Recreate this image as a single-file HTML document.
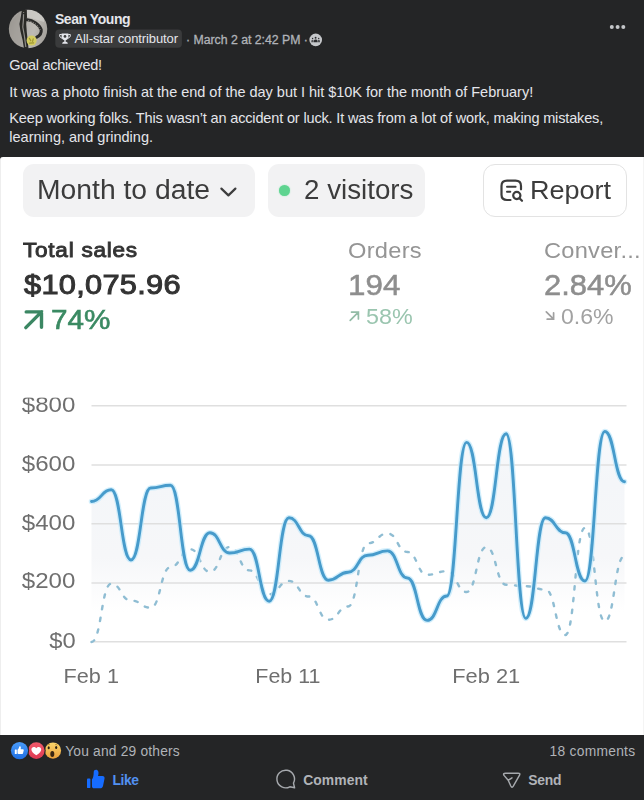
<!DOCTYPE html>
<html><head><meta charset="utf-8">
<style>
*{margin:0;padding:0;box-sizing:border-box}
html,body{width:644px;height:800px;overflow:hidden;background:#242526}
body{font-family:"Liberation Sans",sans-serif;position:relative;color:#e4e6eb}
.abs{position:absolute;white-space:nowrap;line-height:1}
#shot{position:absolute;left:0;top:157px;width:644px;height:578px;background:#fff;border-top-left-radius:3px;border-left:1px solid #eee;border-right:1px solid #f4f4f4}
.bl{filter:blur(.35px)}
.pill{position:absolute;top:7px;height:52.5px;background:#f2f2f3;border-radius:11px}
</style></head><body>

<!-- header -->
<svg class="abs" style="left:0;top:0" width="644" height="60" viewBox="0 0 644 60">
  <defs>
    <clipPath id="av"><circle cx="28.05" cy="29.05" r="19.2"/></clipPath>
    <linearGradient id="avbg" x1="0" y1="0" x2="1" y2="0.3"><stop offset="0" stop-color="#8f8c86"/><stop offset="0.35" stop-color="#aeaba6"/><stop offset="0.7" stop-color="#bdbab5"/><stop offset="1" stop-color="#a19e99"/></linearGradient>
    <filter id="avb" x="-10%" y="-10%" width="120%" height="120%"><feGaussianBlur stdDeviation="0.55"/></filter>
  </defs>
  <g clip-path="url(#av)"><g filter="url(#avb)">
    <rect x="6" y="7" width="46" height="46" fill="url(#avbg)"/>
    <path d="M8,26 L21,10 L23,50 L8,50Z" fill="#9a9791" opacity="0.55"/>
    <path d="M27,8 L44,12 L44,22 L27,17Z" fill="#d2d0cc" opacity="0.7"/>
    <path d="M21.8,10 L26.8,10 L27,17 L26.2,24 L26.8,32 L27.6,40 L28.6,49 L24,49 L22.6,40 L20.4,31 L19.4,24 L20.8,17 Z" fill="#2a2a28"/>
    <path d="M23.6,12 L23.4,20 L22.8,27 L24.4,36 L25.8,47" fill="none" stroke="#8f8d88" stroke-width="1.2"/>
    <path d="M22.5,13.5h3.5" stroke="#2a2a28" stroke-width="1.4"/>
    <path d="M27.2,19.8 C33,20.2 39.5,24.5 41.2,29.8 C41.6,33 39.6,35.8 36.8,37.2" fill="none" stroke="#2c2c2a" stroke-width="3.1" stroke-linecap="round"/>
    <path d="M28,20.7 C33.5,21.7 38.6,25.2 40.2,29.8" fill="none" stroke="#9d9b95" stroke-width="0.9" stroke-dasharray="1.1 1.4"/>
    <circle cx="31.6" cy="40.6" r="5" fill="#d3cc60"/>
    <path d="M29.4,38.4 L30.8,40.8 M33.2,38.8 L32.6,41.4 M29.6,43.2 L33.6,42.8" stroke="#9f962f" stroke-width="1.2" fill="none" stroke-linecap="round"/>
  </g></g>
  <rect x="55.3" y="29.4" width="126.6" height="18.4" rx="4" fill="#3a3b3c"/>
  <g fill="#e4e6eb" transform="translate(59,33.5)">
    <path d="M2.6,0H9.4V3.2C9.4,5.4 8,6.7 6,6.7C4,6.7 2.6,5.4 2.6,3.2Z"/>
    <path d="M2.8,1H0.7C0.3,3 1.3,4.3 3.1,4.7M9.2,1H11.3C11.7,3 10.7,4.3 8.9,4.7" fill="none" stroke="#e4e6eb" stroke-width="1"/>
    <rect x="5.3" y="6.4" width="1.4" height="2.1"/>
    <path d="M3.2,10.2C3.2,8.8 4.2,8.2 6,8.2C7.8,8.2 8.8,8.8 8.8,10.2Z"/>
    <circle cx="6" cy="2.9" r="1.350" fill="#3a3b3c"/>
  </g>
  <circle cx="315.7" cy="39.9" r="6.3" fill="#c5c7ca"/>
  <g fill="#2a2b2d">
    <circle cx="315.6" cy="37.8" r="0.950"/><circle cx="312.6" cy="38.4" r="0.7"/><circle cx="318.7" cy="38.4" r="0.7"/>
    <path d="M313.8,42.3V41.2C313.8,40 314.6,39.4 315.650,39.4C316.7,39.4 317.5,40 317.5,41.2V42.3Z"/>
    <path d="M311.3,42.2V41.3C311.3,40.3 311.9,39.8 312.7,39.8C313.2,39.8 313.5,40 313.5,40.8V42.2ZM320,42.2V41.3C320,40.3 319.4,39.8 318.6,39.8C318.1,39.8 317.8,40 317.8,40.8V42.2Z" opacity="0.75"/>
  </g>
  <g fill="#c4c6c9"><circle cx="611.8" cy="26.9" r="2"/><circle cx="617.6" cy="26.9" r="2"/><circle cx="623.3" cy="26.9" r="2"/></g>
</svg>

<!-- screenshot -->
<div id="shot">
  <div class="pill" style="left:22px;width:232px"></div>
  <div class="pill" style="left:267px;width:156.8px"></div>
  <div class="abs" style="left:482px;top:7px;width:143.6px;height:52.5px;border:1.6px solid #e3e3e3;border-radius:12px;background:#fff"></div>
</div>
<svg class="abs" style="left:215px;top:182px" width="26" height="20" viewBox="215 182 26 20"><path d="M221.4,188.6L228.4,195.4L235.4,188.6" fill="none" stroke="#3e3e3e" stroke-width="2.2" stroke-linecap="round" stroke-linejoin="round"/></svg>
<div class="abs" style="left:279.4px;top:184.9px;width:11px;height:11px;border-radius:50%;background:#5fd490;box-shadow:0 0 1.5px #8ee6b4"></div>
<svg class="abs" style="left:496px;top:176px" width="30" height="30" viewBox="496 176 30 30"><g fill="none" stroke="#3c3c3c" stroke-width="2.2" stroke-linecap="round" stroke-linejoin="round"><path d="M510.5,200H507C503.5,200 501.5,198 501.5,194.8V186C501.5,182.7 503.5,180.7 507,180.7H515.5C519,180.7 521,182.7 521,186V189.3"/><path d="M507,186.8H515.6M507,191.7H510.3" stroke-width="2"/><circle cx="516.8" cy="195.5" r="3.6"/><path d="M519.5,198.2L522,200.8"/></g></svg>

<svg class="abs" style="left:20px;top:305px" width="30" height="30" viewBox="20 305 30 30"><path d="M26.2,311.9H41.5V327.3M41.5,311.9L25.8,327.6" fill="none" stroke="#3b8763" stroke-width="3.4" stroke-linejoin="miter" stroke-linecap="round"/></svg>

<svg class="abs" style="left:346px;top:308px" width="16" height="16" viewBox="346 308 16 16"><path d="M351.5,312.1H358.4V319M358.4,312.1L350.2,320.3" fill="none" stroke="#93bca6" stroke-width="1.7" stroke-linecap="round"/></svg>

<svg class="abs" style="left:542px;top:308px" width="16" height="16" viewBox="542 308 16 16"><path d="M547.2,319.2H553.6V312.8M553.6,319.2L546.3,311.9" fill="none" stroke="#a0a0a0" stroke-width="1.7" stroke-linecap="round"/></svg>

<!-- chart -->
<svg class="abs bl" style="left:0;top:380px" width="644" height="340" viewBox="0 380 644 340">
  <defs>
    <linearGradient id="ag" x1="0" y1="430" x2="0" y2="642" gradientUnits="userSpaceOnUse">
      <stop offset="0" stop-color="#f8f9fb"/><stop offset="0.25" stop-color="#f4f6f9"/><stop offset="0.6" stop-color="#f6f7f9"/><stop offset="0.86" stop-color="#ffffff"/>
    </linearGradient>
  </defs>
  <path d="M91.5,501.5C101.4,501.5 101.4,489.8 111.2,489.8C121.1,489.8 121.1,560.0 131.0,560.0C140.9,560.0 140.9,488.0 150.7,488.0C160.6,488.0 160.6,485.3 170.5,485.3C180.3,485.3 180.3,570.2 190.2,570.2C200.1,570.2 200.1,532.7 209.9,532.7C219.8,532.7 219.8,553.0 229.7,553.0C239.6,553.0 239.6,549.1 249.4,549.1C259.3,549.1 259.3,601.3 269.2,601.3C279.0,601.3 279.0,517.8 288.9,517.8C298.8,517.8 298.8,535.7 308.6,535.7C318.5,535.7 318.5,580.2 328.4,580.2C338.3,580.2 338.3,572.2 348.1,572.2C358.0,572.2 358.0,555.2 367.9,555.2C377.7,555.2 377.7,550.9 387.6,550.9C397.5,550.9 397.5,578.0 407.4,578.0C417.2,578.0 417.2,620.4 427.1,620.4C437.0,620.4 437.0,596.0 446.8,596.0C456.7,596.0 456.7,442.4 466.6,442.4C476.4,442.4 476.4,517.8 486.3,517.8C496.2,517.8 496.2,433.8 506.1,433.8C515.9,433.8 515.9,618.4 525.8,618.4C535.7,618.4 535.7,517.8 545.5,517.8C555.4,517.8 555.4,532.7 565.3,532.7C575.1,532.7 575.1,581.0 585.0,581.0C594.9,581.0 594.9,431.5 604.8,431.5C614.6,431.5 614.6,481.8 624.5,481.8L624.5,641.8L91.5,641.8Z" fill="url(#ag)"/>
  <g stroke="#dfdfdf" stroke-width="1.4">
    <path d="M91.5,405.8H626.5M91.5,465H626.5M91.5,523.7H626.5M91.5,583H626.5M91.5,641.8H626.5"/>
  </g>
  <path d="M91.5,642.0C101.4,642.0 101.4,583.7 111.2,583.7C121.1,583.7 121.1,600.5 131.0,600.5C140.9,600.5 140.9,607.7 150.7,607.7C160.6,607.7 160.6,567.2 170.5,567.2C180.3,567.2 180.3,549.2 190.2,549.2C200.1,549.2 200.1,571.8 209.9,571.8C219.8,571.8 219.8,547.0 229.7,547.0C239.6,547.0 239.6,570.4 249.4,570.4C259.3,570.4 259.3,594.3 269.2,594.3C279.0,594.3 279.0,580.9 288.9,580.9C298.8,580.9 298.8,596.5 308.6,596.5C318.5,596.5 318.5,619.8 328.4,619.8C338.3,619.8 338.3,606.5 348.1,606.5C358.0,606.5 358.0,543.3 367.9,543.3C377.7,543.3 377.7,533.5 387.6,533.5C397.5,533.5 397.5,552.0 407.4,552.0C417.2,552.0 417.2,574.8 427.1,574.8C437.0,574.8 437.0,571.2 446.8,571.2C456.7,571.2 456.7,592.0 466.6,592.0C476.4,592.0 476.4,547.1 486.3,547.1C496.2,547.1 496.2,584.8 506.1,584.8C515.9,584.8 515.9,586.2 525.8,586.2C535.7,586.2 535.7,589.6 545.5,589.6C555.4,589.6 555.4,635.0 565.3,635.0C575.1,635.0 575.1,527.8 585.0,527.8C594.9,527.8 594.9,621.3 604.8,621.3C614.6,621.3 614.6,556.0 624.5,556.0" fill="none" stroke="#8fbdd3" stroke-width="2.4" stroke-dasharray="3.3 8.5" stroke-linecap="round"/>
  <path d="M91.5,501.5C101.4,501.5 101.4,489.8 111.2,489.8C121.1,489.8 121.1,560.0 131.0,560.0C140.9,560.0 140.9,488.0 150.7,488.0C160.6,488.0 160.6,485.3 170.5,485.3C180.3,485.3 180.3,570.2 190.2,570.2C200.1,570.2 200.1,532.7 209.9,532.7C219.8,532.7 219.8,553.0 229.7,553.0C239.6,553.0 239.6,549.1 249.4,549.1C259.3,549.1 259.3,601.3 269.2,601.3C279.0,601.3 279.0,517.8 288.9,517.8C298.8,517.8 298.8,535.7 308.6,535.7C318.5,535.7 318.5,580.2 328.4,580.2C338.3,580.2 338.3,572.2 348.1,572.2C358.0,572.2 358.0,555.2 367.9,555.2C377.7,555.2 377.7,550.9 387.6,550.9C397.5,550.9 397.5,578.0 407.4,578.0C417.2,578.0 417.2,620.4 427.1,620.4C437.0,620.4 437.0,596.0 446.8,596.0C456.7,596.0 456.7,442.4 466.6,442.4C476.4,442.4 476.4,517.8 486.3,517.8C496.2,517.8 496.2,433.8 506.1,433.8C515.9,433.8 515.9,618.4 525.8,618.4C535.7,618.4 535.7,517.8 545.5,517.8C555.4,517.8 555.4,532.7 565.3,532.7C575.1,532.7 575.1,581.0 585.0,581.0C594.9,581.0 594.9,431.5 604.8,431.5C614.6,431.5 614.6,481.8 624.5,481.8" fill="none" stroke="#c4e9fb" stroke-opacity="0.75" stroke-width="5.6" stroke-linecap="round" stroke-linejoin="round"/>
  <path d="M91.5,501.5C101.4,501.5 101.4,489.8 111.2,489.8C121.1,489.8 121.1,560.0 131.0,560.0C140.9,560.0 140.9,488.0 150.7,488.0C160.6,488.0 160.6,485.3 170.5,485.3C180.3,485.3 180.3,570.2 190.2,570.2C200.1,570.2 200.1,532.7 209.9,532.7C219.8,532.7 219.8,553.0 229.7,553.0C239.6,553.0 239.6,549.1 249.4,549.1C259.3,549.1 259.3,601.3 269.2,601.3C279.0,601.3 279.0,517.8 288.9,517.8C298.8,517.8 298.8,535.7 308.6,535.7C318.5,535.7 318.5,580.2 328.4,580.2C338.3,580.2 338.3,572.2 348.1,572.2C358.0,572.2 358.0,555.2 367.9,555.2C377.7,555.2 377.7,550.9 387.6,550.9C397.5,550.9 397.5,578.0 407.4,578.0C417.2,578.0 417.2,620.4 427.1,620.4C437.0,620.4 437.0,596.0 446.8,596.0C456.7,596.0 456.7,442.4 466.6,442.4C476.4,442.4 476.4,517.8 486.3,517.8C496.2,517.8 496.2,433.8 506.1,433.8C515.9,433.8 515.9,618.4 525.8,618.4C535.7,618.4 535.7,517.8 545.5,517.8C555.4,517.8 555.4,532.7 565.3,532.7C575.1,532.7 575.1,581.0 585.0,581.0C594.9,581.0 594.9,431.5 604.8,431.5C614.6,431.5 614.6,481.8 624.5,481.8" fill="none" stroke="#479bcb" stroke-width="2.9" stroke-linecap="round" stroke-linejoin="round"/>
  <g font-family="Liberation Sans, sans-serif" font-size="22" fill="#6f6f6f">
    <text x="21.8" y="411.5" textLength="53.6" lengthAdjust="spacingAndGlyphs">$800</text>
    <text x="21.8" y="470.8" textLength="53.6" lengthAdjust="spacingAndGlyphs">$600</text>
    <text x="21.8" y="529.8" textLength="53.6" lengthAdjust="spacingAndGlyphs">$400</text>
    <text x="21.8" y="588" textLength="53.6" lengthAdjust="spacingAndGlyphs">$200</text>
    <text x="49.2" y="648" textLength="26.4" lengthAdjust="spacingAndGlyphs">$0</text>
    <text x="63.6" y="683" textLength="55.4" lengthAdjust="spacingAndGlyphs" font-size="21">Feb 1</text>
    <rect x="18" y="388" width="62" height="9.6" fill="#fff"/>
    <text x="255.3" y="683" textLength="65.2" lengthAdjust="spacingAndGlyphs" font-size="21">Feb 11</text>
    <text x="452.2" y="683" textLength="68" lengthAdjust="spacingAndGlyphs" font-size="21">Feb 21</text>
  </g>
</svg>

<!-- footer -->
<svg class="abs" style="left:0;top:736px" width="644" height="64" viewBox="0 736 644 64">
  <defs>
    <linearGradient id="lk" x1="0" y1="0" x2="0" y2="1"><stop offset="0" stop-color="#4a9bf8"/><stop offset="1" stop-color="#1f6fe3"/></linearGradient>
    <linearGradient id="lv" x1="0" y1="0" x2="0" y2="1"><stop offset="0" stop-color="#f2596a"/><stop offset="1" stop-color="#dd3a52"/></linearGradient>
    <linearGradient id="ww" x1="0" y1="0" x2="0" y2="1"><stop offset="0" stop-color="#fbd66a"/><stop offset="1" stop-color="#eaa03c"/></linearGradient>
  </defs>
  <circle cx="53" cy="750.6" r="8.1" fill="url(#ww)"/>
  <ellipse cx="48.7" cy="747.7" rx="1.050" ry="1.5" fill="#2c2213"/><ellipse cx="56.2" cy="747.5" rx="1.050" ry="1.5" fill="#2c2213"/>
  <path d="M47.6,745.2q1.1,-1 2.2,-0.6M55.2,744.6q1.1,-0.4 2.2,0.6" stroke="#8a5a1a" stroke-width="0.6" fill="none"/>
  <ellipse cx="52.3" cy="753.9" rx="2" ry="3" fill="#3a2612"/>
  <circle cx="36.3" cy="750.6" r="9.4" fill="#242526"/>
  <circle cx="36.3" cy="750.6" r="8.3" fill="url(#lv)"/>
  <path d="M36.3,755.3C32.8,752.9 31.4,751.2 31.4,749.4C31.4,747.9 32.5,746.9 33.8,746.9C34.8,746.9 35.7,747.4 36.3,748.3C36.9,747.4 37.8,746.9 38.8,746.9C40.1,746.9 41.2,747.9 41.2,749.4C41.2,751.2 39.8,752.9 36.3,755.3Z" fill="#fff"/>
  <circle cx="19.5" cy="750.6" r="9.6" fill="#242526"/>
  <circle cx="19.5" cy="750.6" r="8.6" fill="url(#lk)"/>
  <rect x="14.8" y="749.6" width="2" height="4.5" rx="0.4" fill="#fff"/>
  <path d="M17.5,749.8C18.4,749 19,747.9 19.1,746.9C19.2,746.2 19.8,746 20.3,746.3C21,746.7 21,747.8 20.6,749.2H22.7C23.5,749.2 23.9,749.8 23.7,750.5L23,753.2C22.8,753.8 22.4,754.1 21.8,754.1H18.5C17.9,754.1 17.5,753.8 17.5,753.3Z" fill="#fff"/>

  <g fill="#166cff">
    <rect x="87" y="778.5" width="3.4" height="9.6" rx="0.9"/>
    <path d="M91.9,779.6C93.2,778 93.7,775.5 93.7,772.2C93.7,770 95.6,769.4 97.1,770C98.9,770.8 98.8,773.6 98,776.1H102.4C104.1,776.1 104.9,777.3 104.5,778.8L103,786C102.6,787.5 101.6,788.3 100.1,788.3H94C92.9,788.3 92,787.6 92,786.5Z"/>
  </g>
  <path d="M293.470,783.130A8.8,8.8 0 1 0 289.830,786.770L294.6,787.8Z" fill="none" stroke="#a6a9ad" stroke-width="1.450" stroke-linejoin="round"/>
  <path d="M505.6,773.2H518.2Q520.6,773.2 519.4,775.3L513.3,786.2Q512,788.3 510.8,786L508.2,780.3L504,775.4Q502.7,773.2 505.6,773.2ZM508.2,780.3L512,777.8" fill="none" stroke="#a6a9ad" stroke-width="1.450" stroke-linejoin="round" stroke-linecap="round"/>
</svg>

<div class="abs" id="name" style="left:54.9px;top:12px;font-size:14px;color:#e4e6eb;font-weight:bold;letter-spacing:-0.43px">Sean Young</div>
<div class="abs" id="badge" style="left:74.5px;top:32px;font-size:13px;color:#e4e6eb;letter-spacing:-0.1px">All-star contributor</div>
<div class="abs" id="date" style="left:186.0px;top:34px;font-size:12.3px;color:#b0b3b8;-webkit-text-stroke:0.3px #b0b3b8;letter-spacing:-0.02px">· March 2 at 2:42 PM ·</div>
<div class="abs" id="l1" style="left:9.3px;top:58px;font-size:14.5px;color:#e4e6eb;letter-spacing:-0.3px">Goal achieved!</div>
<div class="abs" id="l2" style="left:9.3px;top:85px;font-size:14.5px;color:#e4e6eb;letter-spacing:-0.02px">It was a photo finish at the end of the day but I hit $10K for the month of February!</div>
<div class="abs" id="l3" style="left:9.3px;top:111px;font-size:14.5px;color:#e4e6eb;letter-spacing:-0.15px">Keep working folks. This wasn’t an accident or luck. It was from a lot of work, making mistakes,</div>
<div class="abs" id="l4" style="left:9.3px;top:130px;font-size:14.5px;color:#e4e6eb;letter-spacing:0.01px">learning, and grinding.</div>
<div class="abs bl" id="mtd" style="left:37.2px;top:177px;font-size:27px;color:#3c3c3c;transform:scaleX(1.048);transform-origin:0 0">Month to date</div>
<div class="abs bl" id="vis" style="left:303.5px;top:177px;font-size:27px;color:#3c3c3c;transform:scaleX(1.027);transform-origin:0 0">2 visitors</div>
<div class="abs bl" id="rep" style="left:529.6px;top:177px;font-size:26px;color:#3c3c3c;transform:scaleX(1.038);transform-origin:0 0">Report</div>
<div class="abs bl" id="ts" style="left:23.4px;top:240px;font-size:20.5px;color:#333333;-webkit-text-stroke:0.9px #333333;letter-spacing:0.69px;transform:scaleX(1.1);transform-origin:0 0">Total sales</div>
<div class="abs bl" id="amt" style="left:23.9px;top:271px;font-size:28px;color:#333333;-webkit-text-stroke:1px #333333;letter-spacing:0.25px;transform:scaleX(1.1);transform-origin:0 0">$10,075.96</div>
<div class="abs bl" id="p74" style="left:50.6px;top:307px;font-size:27px;color:#3b8a63;-webkit-text-stroke:0.6px #3b8a63;transform:scaleX(1.1);transform-origin:0 0">74%</div>
<div class="abs bl" id="ord" style="left:348.4px;top:241px;font-size:21.5px;color:#959595;letter-spacing:0.25px;transform:scaleX(1.1);transform-origin:0 0">Orders</div>
<div class="abs bl" id="n194" style="left:348.0px;top:271px;font-size:28.8px;color:#8e8e8e;-webkit-text-stroke:0.5px #8e8e8e;transform:scaleX(1.089);transform-origin:0 0">194</div>
<div class="abs bl" id="p58" style="left:365.8px;top:307px;font-size:21.5px;color:#9ac5af;transform:scaleX(1.085);transform-origin:0 0">58%</div>
<div class="abs bl" id="conv" style="left:543.6px;top:241px;font-size:21.5px;color:#959595;letter-spacing:0.22px;transform:scaleX(1.1);transform-origin:0 0">Conver...</div>
<div class="abs bl" id="n284" style="left:544.1px;top:271px;font-size:28.6px;color:#8e8e8e;-webkit-text-stroke:0.5px #8e8e8e;transform:scaleX(1.083);transform-origin:0 0">2.84%</div>
<div class="abs bl" id="p06" style="left:561.2px;top:307px;font-size:21.5px;color:#a2a2a2;transform:scaleX(1.072);transform-origin:0 0">0.6%</div>
<div class="abs" id="you" style="left:65.2px;top:745px;font-size:13.8px;color:#b0b3b8;letter-spacing:0.19px">You and 29 others</div>
<div class="abs" id="cm" style="left:549.6px;top:745px;font-size:13.8px;color:#b0b3b8;letter-spacing:0.27px">18 comments</div>
<div class="abs" id="like" style="left:112.4px;top:774px;font-size:13.9px;color:#5290f0;font-weight:bold;letter-spacing:-0.37px">Like</div>
<div class="abs" id="comment" style="left:303.2px;top:774px;font-size:13.9px;color:#b0b3b8;font-weight:bold;letter-spacing:0.07px">Comment</div>
<div class="abs" id="send" style="left:528.2px;top:774px;font-size:13.9px;color:#b0b3b8;font-weight:bold;letter-spacing:-0.23px">Send</div>
</body></html>
